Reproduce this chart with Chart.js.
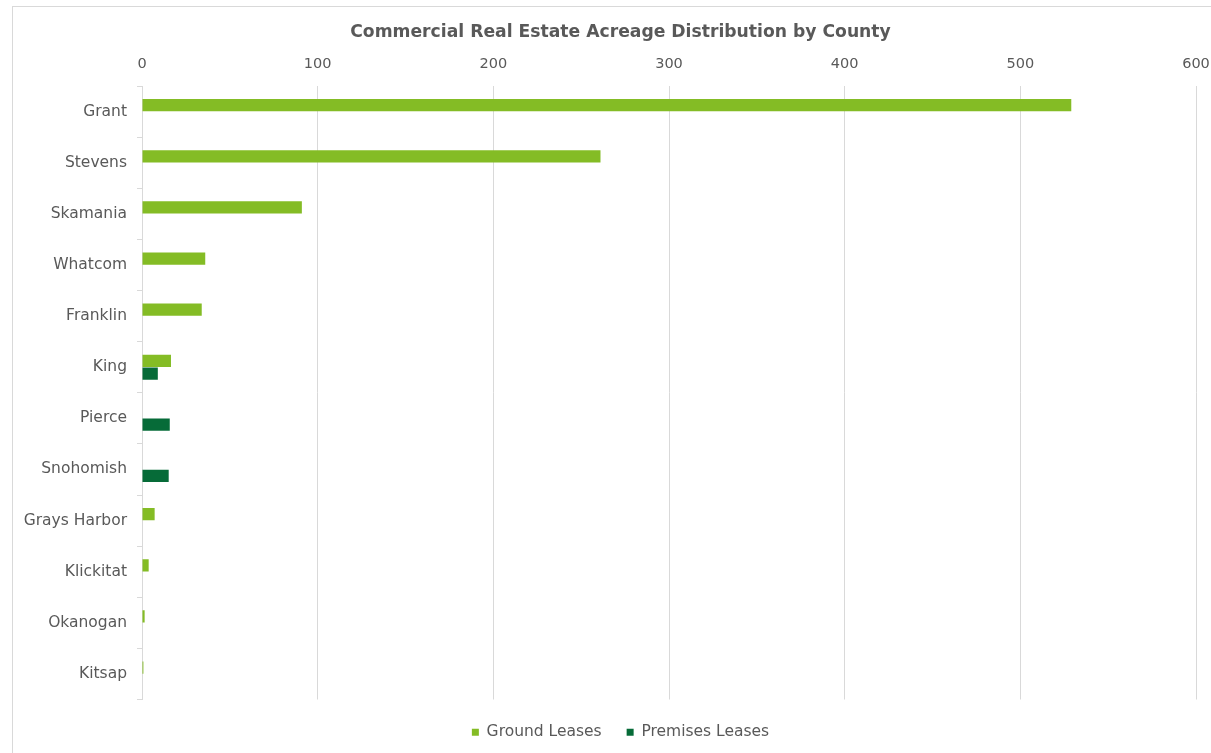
<!DOCTYPE html>
<html>
<head>
<meta charset="utf-8">
<script src="https://cdn.jsdelivr.net/npm/chart.js@4"></script>
<style>
  html, body { margin: 0; padding: 0; background: #fff; overflow: hidden; }
  #frame { position: absolute; left: 12px; top: 6px; width: 1230px; height: 760px; border: 1px solid #d9d9d9; box-sizing: border-box; }
  #wrap { position: absolute; left: 12px; top: 0; width: 1222px; height: 750px; }
</style>
</head>
<body>
<div id="frame"></div>
<div id="wrap"><canvas id="acreChart"></canvas></div>
<script>
const counties = ['Grant', 'Stevens', 'Skamania', 'Whatcom', 'Franklin', 'King', 'Pierce', 'Snohomish', 'Grays Harbor', 'Klickitat', 'Okanogan', 'Kitsap'];
const groundLeases = [529, 261, 91, 36, 34, 16.5, null, null, 7.2, 3.8, 1.5, 0.8];
const premisesLeases = [null, null, null, null, null, 9, 15.8, 15.2, null, null, null, null];
const xTicks = [0, 100, 200, 300, 400, 500, 600];

const grey = '#595959';
Chart.defaults.font.family = "'DejaVu Sans', Verdana, sans-serif";
Chart.defaults.color = grey;

new Chart(document.getElementById('acreChart'), {
  type: 'bar',
  data: {
    labels: counties,
    datasets: [
      { label: 'Ground Leases', data: groundLeases, backgroundColor: '#84bc25', categoryPercentage: 0.5, barPercentage: 0.96 },
      { label: 'Premises Leases', data: premisesLeases, backgroundColor: '#066b38', categoryPercentage: 0.5, barPercentage: 0.96 }
    ]
  },
  options: {
    indexAxis: 'y',
    responsive: true,
    maintainAspectRatio: false,
    animation: false,
    layout: { padding: { left: 33, right: 38, top: 16, bottom: 0 } },
    plugins: {
      title: { display: true, text: 'Commercial Real Estate Acreage Distribution by County', color: grey, font: { size: 17.2, weight: 'bold' }, padding: { top: 6, bottom: 0 } },
      legend: { position: 'bottom', labels: { boxWidth: 7, boxHeight: 7, color: grey, font: { size: 15.5 }, padding: 25 } },
      tooltip: { enabled: false }
    },
    scales: {
      x: {
        position: 'top', min: 0, max: 600,
        afterBuildTicks: s => { s.ticks = xTicks.map(v => ({ value: v })); },
        ticks: { color: grey, font: { size: 14.5 }, padding: 13 },
        grid: { color: '#d9d9d9', drawTicks: false },
        border: { display: false }
      },
      y: {
        // narrow box so title/legend centre like the original; don't clip long county names
        afterFit: s => { s.width = 97; s._computeLabelArea = () => undefined; },
        ticks: { color: grey, font: { size: 15.5 }, padding: 10 },
        grid: { offset: true, drawOnChartArea: false, color: '#d9d9d9', tickLength: 5 },
        border: { color: '#d9d9d9' }
      }
    }
  }
});
</script>
</body>
</html>
